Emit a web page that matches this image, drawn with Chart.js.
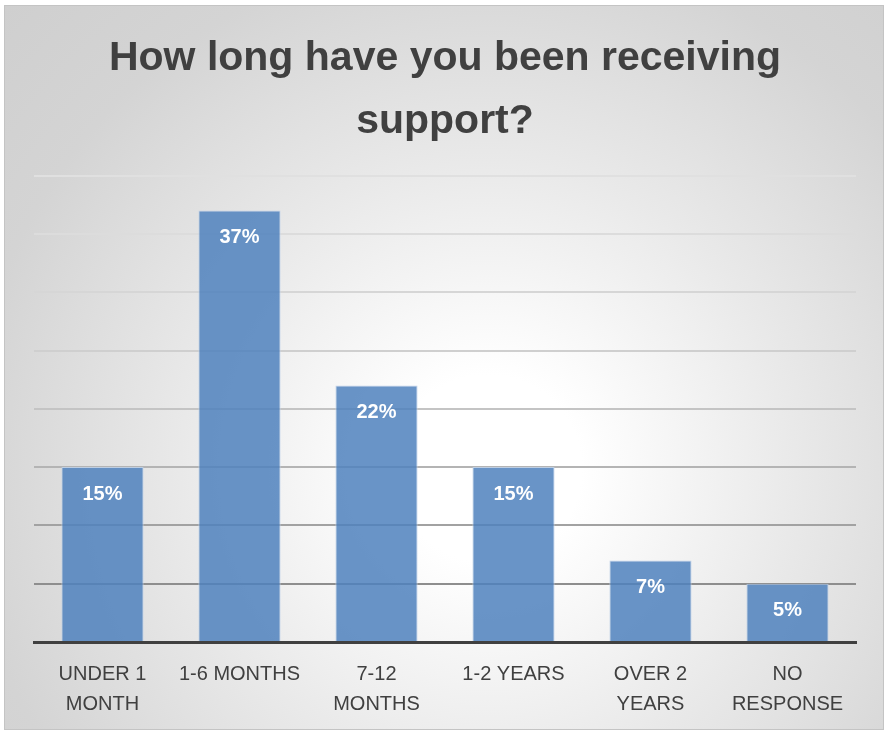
<!DOCTYPE html>
<html lang="en">
<head>
    <meta charset="UTF-8">
    <title>How long have you been receiving support?</title>
    <script src="https://cdn.jsdelivr.net/npm/chart.js"></script>
    <style>
        html, body { margin: 0; padding: 0; background: #fff; }
        .frame {
            position: absolute; left: 4px; top: 5px; width: 880px; height: 725px;
            box-sizing: border-box; border: 1px solid #c4c4c4;
            background: radial-gradient(circle at 55% 64%, #ffffff 0%, #ffffff 14%, #e9e9e9 46%, #d4d4d4 78%, #cfcfcf 100%);
        }
        .chart-box { position: absolute; left: 0; top: 0; width: 884px; height: 734px; }
    </style>
</head>
<body>
    <div class="frame"></div>
    <div class="chart-box">
        <canvas id="supportChart"></canvas>
    </div>
    <script>
        // data
        const categories = [['UNDER 1', 'MONTH'], '1-6 MONTHS', ['7-12', 'MONTHS'], '1-2 YEARS', ['OVER 2', 'YEARS'], ['NO', 'RESPONSE']];
        const percentages = [15, 37, 22, 15, 7, 5];
        const yTicks = [0, 5, 10, 15, 20, 25, 30, 35, 40];

        // gridlines fade from dark at the bottom to light at the top
        const gridShades = ['rgba(0,0,0,0)', '#8e8e8e', '#a2a2a2', '#b4b4b4', '#c4c4c4', '#cfcfcf', '#d6d6d6', '#dcdcdc', '#e0e0e0'];

        // white % labels just inside the top of each bar
        const barLabels = {
            id: 'barLabels',
            afterDatasetsDraw(chart) {
                const ctx = chart.ctx;
                const meta = chart.getDatasetMeta(0);
                ctx.save();
                ctx.fillStyle = '#ffffff';
                ctx.font = 'bold 20px "Liberation Sans", Arial, sans-serif';
                ctx.textAlign = 'center';
                ctx.textBaseline = 'middle';
                meta.data.forEach((bar, i) => {
                    ctx.fillText(percentages[i] + '%', bar.x, bar.y + 27);
                });
                ctx.restore();
            }
        };

        new Chart(document.getElementById('supportChart'), {
            type: 'bar',
            data: {
                labels: categories,
                datasets: [{
                    data: percentages,
                    backgroundColor: 'rgba(79,129,189,0.85)',
                    borderColor: 'rgba(190,208,232,0.9)',
                    borderWidth: 1,
                    barPercentage: 0.6,
                    categoryPercentage: 1.0
                }]
            },
            options: {
                responsive: true,
                maintainAspectRatio: false,
                animation: false,
                layout: { padding: { left: 34, right: 28, top: 28, bottom: 6 } },
                plugins: {
                    legend: { display: false },
                    tooltip: { enabled: false },
                    title: {
                        display: true,
                        text: ['How long have you been receiving', 'support?'],
                        color: '#404040',
                        font: { family: '"Liberation Sans", Arial, sans-serif', size: 41, weight: 'bold', lineHeight: 1.52 },
                        padding: { top: 0, bottom: 23 }
                    }
                },
                scales: {
                    x: {
                        grid: { display: false },
                        border: { display: true, color: '#404040', width: 3 },
                        ticks: {
                            color: '#404040',
                            font: { family: '"Liberation Sans", Arial, sans-serif', size: 20, lineHeight: 1.5 },
                            padding: 9,
                            maxRotation: 0,
                            autoSkip: false
                        }
                    },
                    y: {
                        min: 0,
                        max: 40,
                        afterBuildTicks(axis) {
                            axis.ticks = yTicks.map(v => ({ value: v }));
                        },
                        grid: {
                            drawTicks: false,
                            lineWidth: 2,
                            color: c => gridShades[c.index] || '#d9d9d9'
                        },
                        border: { display: false },
                        ticks: { display: false }
                    }
                }
            },
            plugins: [barLabels]
        });
    </script>
</body>
</html>
